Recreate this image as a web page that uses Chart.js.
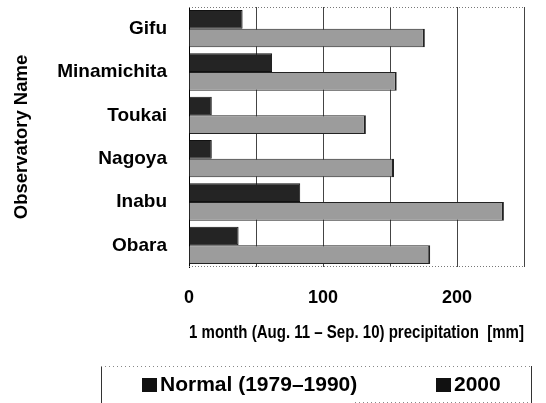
<!DOCTYPE html>
<html>
<head>
<meta charset="utf-8">
<title>1 month precipitation by observatory</title>
<script src="https://cdn.jsdelivr.net/npm/chart.js@4.4.1/dist/chart.umd.min.js"></script>
<style>
  html, body { margin: 0; padding: 0; background: #fff; }
  #wrap { width: 546px; height: 403px; }
</style>
</head>
<body>
<div id="wrap"><canvas id="rainChart" width="546" height="403"></canvas></div>
<script>
const stations = ['Gifu', 'Minamichita', 'Toukai', 'Nagoya', 'Inabu', 'Obara'];
const normal1979to1990 = [40, 62, 17, 17, 83, 37];
const year2000 = [176, 155, 132, 153, 235, 180];
const seriesNames = ['Normal (1979\u20131990)', '2000'];
const xTickLabels = [0, 100, 200];

const FONT = '"Liberation Sans", Arial, sans-serif';

// dotted top and bottom edges of the plot frame
const plotFrame = {
  id: 'plotFrame',
  afterDraw(chart) {
    const {ctx, chartArea: a} = chart;
    ctx.save();
    ctx.strokeStyle = '#777';
    ctx.lineWidth = 1;
    ctx.setLineDash([1, 2]);
    ctx.beginPath();
    ctx.moveTo(a.left, a.top + 0.5);
    ctx.lineTo(a.right, a.top + 0.5);
    ctx.moveTo(a.left, a.bottom - 0.5);
    ctx.lineTo(a.right, a.bottom - 0.5);
    ctx.stroke();
    ctx.restore();
  }
};

// legend in a framed box under the axis title
const legendBox = {
  id: 'legendBox',
  afterDraw(chart) {
    const ctx = chart.ctx;
    const left = 101, right = 531, top = 366, bottom = 402;
    ctx.save();
    ctx.lineWidth = 1;
    ctx.strokeStyle = '#333';
    ctx.beginPath();
    ctx.moveTo(left + 0.5, top);
    ctx.lineTo(left + 0.5, 403);
    ctx.moveTo(right + 0.5, top);
    ctx.lineTo(right + 0.5, 403);
    ctx.stroke();
    ctx.setLineDash([1, 3]);
    ctx.strokeStyle = '#888';
    ctx.beginPath();
    ctx.moveTo(left, top + 0.5);
    ctx.lineTo(right, top + 0.5);
    ctx.moveTo(355, bottom + 0.5);
    ctx.lineTo(right, bottom + 0.5);
    ctx.stroke();
    ctx.setLineDash([]);

    const itemX = [142, 436];
    const midY = 385;
    ctx.font = 'bold 21px ' + FONT;
    ctx.textBaseline = 'middle';
    ctx.textAlign = 'left';
    chart.data.datasets.forEach((ds, i) => {
      ctx.fillStyle = '#111';
      ctx.fillRect(itemX[i], midY - 7, 15, 14);
      ctx.fillStyle = '#000';
      ctx.fillText(ds.label, itemX[i] + 18, midY);
    });
    ctx.restore();
  }
};

const ctx = document.getElementById('rainChart').getContext('2d');
new Chart(ctx, {
  type: 'bar',
  data: {
    labels: stations,
    datasets: [{
      label: seriesNames[0],
      data: normal1979to1990,
      backgroundColor: '#242424',
      borderColor: '#111',
      borderWidth: 1,
      borderSkipped: 'start'
    }, {
      label: seriesNames[1],
      data: year2000,
      backgroundColor: '#9c9c9c',
      borderColor: '#222',
      borderWidth: {top: 1, bottom: 1, right: 2, left: 0},
      borderSkipped: 'start'
    }]
  },
  options: {
    indexAxis: 'y',
    responsive: false,
    animation: false,
    categoryPercentage: 0.86,
    barPercentage: 1.0,
    layout: { padding: {top: 7, right: 22, left: 0, bottom: 0} },
    plugins: {
      legend: { display: false },
      tooltip: { enabled: false }
    },
    scales: {
      x: {
        min: 0,
        max: 250,
        ticks: {
          stepSize: 50,
          padding: 20,
          color: '#000',
          maxRotation: 0,
          autoSkip: false,
          font: {family: FONT, size: 18, weight: 'bold'},
          callback: v => xTickLabels.includes(v) ? v : ''
        },
        grid: { color: '#444', lineWidth: 1, drawTicks: false },
        border: { display: false },
        title: {
          display: true,
          text: '1 month (Aug. 11 \u2013 Sep. 10) precipitation  [mm]',
          align: 'end',
          color: '#000',
          font: {family: FONT, size: 19, weight: 'bold'},
          padding: {top: 0, bottom: 59}
        },
        afterFit: s => { s.height = 136; }
      },
      y: {
        ticks: {
          padding: 22,
          color: '#000',
          font: {family: FONT, size: 19, weight: 'bold'}
        },
        grid: { display: false, drawTicks: false },
        border: { display: true, color: '#000', width: 1 },
        title: {
          display: true,
          text: 'Observatory Name',
          color: '#000',
          font: {family: FONT, size: 18.5, weight: 'bold'},
          padding: {top: 11, bottom: 0}
        },
        afterFit: s => {
          s.width = 189;
          s.paddingTop = 0;
          s.paddingBottom = 0;
        }
      }
    }
  },
  plugins: [plotFrame, legendBox]
});
</script>
</body>
</html>
